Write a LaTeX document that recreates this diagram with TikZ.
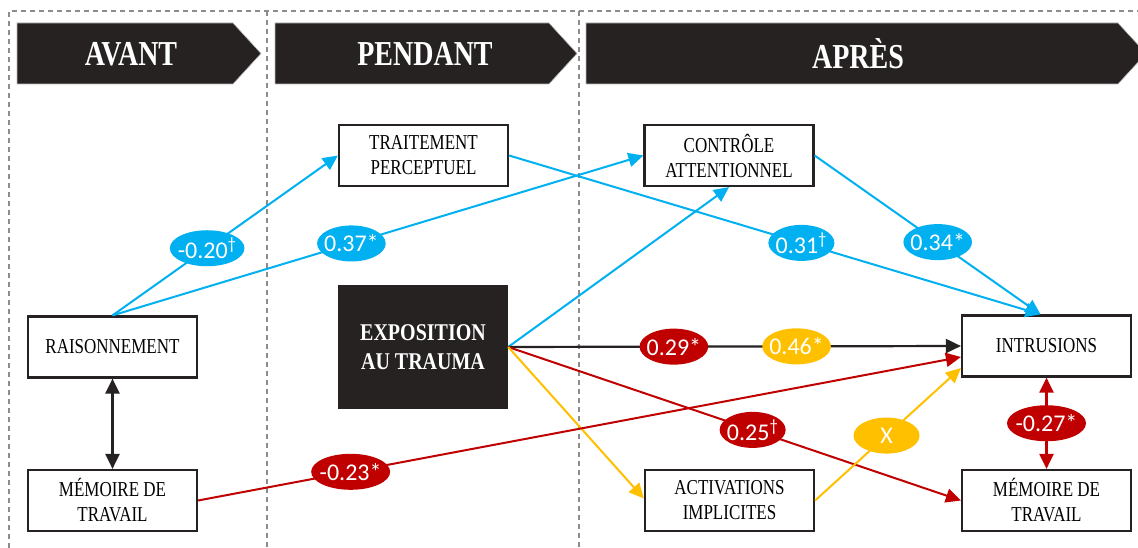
\documentclass[tikz,border=0pt]{standalone}
\usepackage{fontspec}
\usepackage{graphicx}
\setmainfont{Liberation Serif}
\newfontfamily\lblfont{Carlito}
\usetikzlibrary{shapes.geometric,arrows.meta}
\definecolor{dk}{HTML}{262222}
\definecolor{bl}{HTML}{00B0F0}
\definecolor{rd}{HTML}{C00000}
\definecolor{yl}{HTML}{FFC000}
\definecolor{gr}{HTML}{8C8C8C}
\newcommand{\vst}[1]{\scalebox{1}[1.25]{#1}}
\begin{document}
\begin{tikzpicture}[x=1pt,y=-1pt,
 box/.style={draw=dk,line width=2.2pt,fill=white,minimum width=169pt,minimum height=61pt,align=center,inner sep=0pt,font=\fontsize{17}{25}\selectfont},
 lbl/.style={ellipse,fill=#1,text=white,inner ysep=0pt,inner xsep=-3pt,minimum width=66pt,minimum height=36pt,font=\lblfont\fontsize{24}{24}\selectfont},
 arr/.style={line width=2pt,-{Triangle[length=15pt,width=14pt]}},
 darr/.style={line width=2.2pt,{Triangle[length=15pt,width=14pt]}-{Triangle[length=15pt,width=14pt]}},
 divider/.style={gr,line width=1.2pt,dash pattern=on 5pt off 4pt},
 banner/.style={fill=dk,draw=gr!60,line width=0.6pt},
 bantext/.style={text=white,font=\bfseries\fontsize{28}{28}\selectfont}
]
\useasboundingbox (0,0) rectangle (1138,548);
\fill[white] (0,0) rectangle (1138,548);
% frame and dividers
\draw[divider] (9,548) -- (9,11) -- (1138,11);
\draw[divider] (267,11) -- (267,548);
\draw[divider] (579,11) -- (579,548);
% banners
\draw[banner] (17,23) -- (233,23) -- (261,53.5) -- (233,84) -- (17,84) -- cycle;
\draw[banner] (275,23) -- (549,23) -- (577,53.5) -- (549,84) -- (275,84) -- cycle;
\draw[banner] (586,23) -- (1118,23) -- (1146,53.5) -- (1118,84) -- (586,84) -- cycle;
\node[bantext] (avant) at (131,54) {\vst{AVANT}};
\node[bantext] (pendant) at (425,54) {\vst{PENDANT}};
\node[bantext] (apres) at (858,54) {\vst{APRÈS}};
% nodes
\node[box] (trait) at (423.5,155.5) {\vst{TRAITEMENT}\\\vst{PERCEPTUEL}};
\node[box] (ctrl) at (729,155.5) {\vst{CONTRÔLE}\\\vst{ATTENTIONNEL}};
\node[box] (rais) at (112.5,347) {\vst{RAISONNEMENT}};
\node[box] (meml) at (112.5,500.5) {\vst{MÉMOIRE DE}\\\vst{TRAVAIL}};
\node[fill=dk,minimum width=170pt,minimum height=124pt,inner sep=0pt,text=white,align=center,font=\bfseries\fontsize{20}{29}\selectfont] (expo) at (423,347) {\scalebox{1}[1.2]{EXPOSITION}\\\scalebox{1}[1.2]{AU TRAUMA}};
\node[box] (intr) at (1046.5,346) {\vst{INTRUSIONS}};
\node[box] (act) at (729.5,500.5) {\vst{ACTIVATIONS}\\\vst{IMPLICITES}};
\node[box] (memr) at (1046.5,500.5) {\vst{MÉMOIRE DE}\\\vst{TRAVAIL}};
% connectors
\draw[arr,bl] (rais.north) -- node[lbl=bl,pos=0.42] {-0.20\textsuperscript{†}} (trait.west);
\draw[arr,bl] (rais.north) -- node[lbl=bl,pos=0.45] {0.37*} (ctrl.west);
\draw[arr,bl] (trait.east) -- node[lbl=bl,pos=0.55] {0.31\textsuperscript{†}} ([xshift=-6pt]intr.north);
\draw[arr,bl] (ctrl.east) -- node[lbl=bl,pos=0.545] {0.34*} ([xshift=-6pt]intr.north);
\draw[arr,bl] (expo.east) -- (ctrl.south);
\draw[arr,dk,line width=2.2pt] (expo.east) -- node[lbl=rd,pos=0.366] {0.29*} node[lbl=yl,pos=0.637] {0.46*} (intr.west);
\draw[arr,rd] (expo.east) -- node[lbl=rd,pos=0.54] {0.25\textsuperscript{†}} (memr.west);
\draw[arr,yl] (expo.east) -- ([yshift=2pt]act.west);
\draw[arr,rd] (meml.east) -- node[lbl=rd,pos=0.2] {-0.23*} ([yshift=-11pt]intr.west);
\draw[arr,yl] (act.east) -- node[lbl=yl,pos=0.49] {X} ([yshift=-22pt]intr.west);
\draw[darr,dk] (rais.south) -- (meml.north);
\draw[darr,rd] (intr.south) -- node[lbl=rd,pos=0.5] {-0.27*} (memr.north);
\end{tikzpicture}
\end{document}
